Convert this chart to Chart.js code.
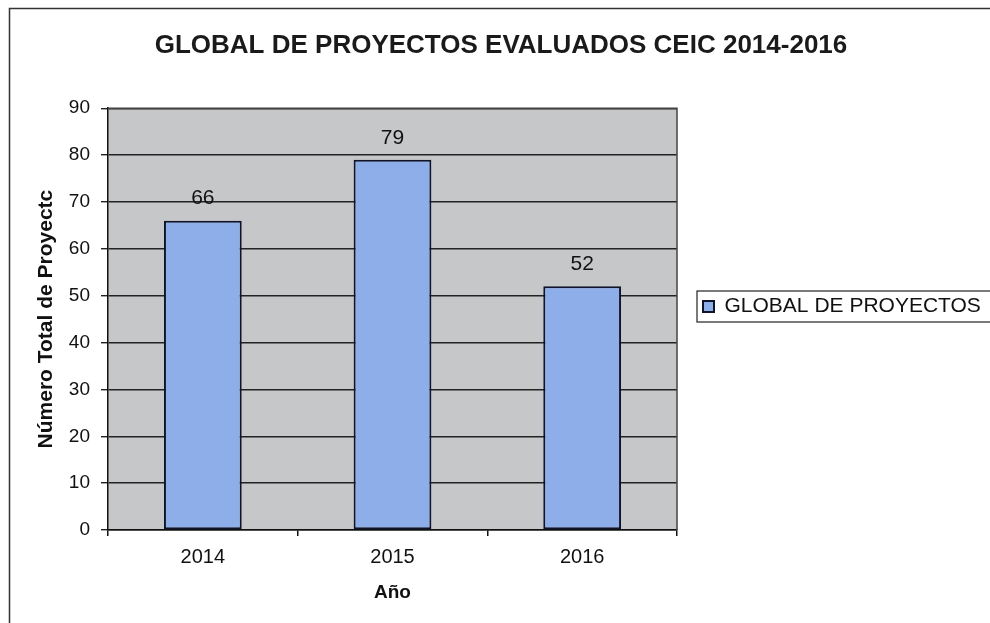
<!DOCTYPE html>
<html>
<head>
<meta charset="utf-8">
<script src="https://cdn.jsdelivr.net/npm/chart.js@4"></script>
<style>
  html, body { margin: 0; padding: 0; background: #fff; }
</style>
</head>
<body>
<canvas id="myChart" width="990" height="623"></canvas>
<script>
const years = ['2014', '2015', '2016'];
const proyectos = [66, 79, 52];
const serieName = 'GLOBAL DE PROYECTOS';
const chartTitle = 'GLOBAL DE PROYECTOS EVALUADOS CEIC 2014-2016';
const yTitle = 'Número Total de Proyectc';
const xTitle = 'Año';
const yMin = 0, yMax = 90, yStep = 10;

const FONT = '"Liberation Sans", Arial, sans-serif';

// grey plot area + outer frame
const plotBackground = {
    id: 'plotBackground',
    beforeDraw(chart) {
        const {ctx, chartArea: a} = chart;
        ctx.save();
        ctx.fillStyle = '#fff';
        ctx.fillRect(0, 0, chart.width, chart.height);
        ctx.fillStyle = '#c6c7c9';
        ctx.fillRect(a.left, a.top, a.right - a.left, a.bottom - a.top);
        ctx.strokeStyle = '#333';
        ctx.lineWidth = 1.5;
        ctx.beginPath();
        ctx.moveTo(9.5, chart.height);
        ctx.lineTo(9.5, 8.5);
        ctx.lineTo(chart.width, 8.5);
        ctx.stroke();
        ctx.restore();
    }
};

// the legend sits in a wide box on the right, wider than chart.js lets a side box be
const wideLegend = {
    id: 'wideLegend',
    beforeLayout(chart) {
        const lg = chart.legend;
        if (lg && !lg._wide) {
            const fit = lg.fit;
            lg.fit = function () {
                fit.call(this);
                this.width = 313;
            };
            lg._wide = true;
        }
    }
};

// value labels over the bars
const valueLabels = {
    id: 'valueLabels',
    afterDatasetsDraw(chart) {
        const {ctx} = chart;
        ctx.save();
        ctx.font = '21px ' + FONT;
        ctx.fillStyle = '#111';
        ctx.textAlign = 'center';
        ctx.textBaseline = 'middle';
        chart.getDatasetMeta(0).data.forEach((bar, i) => {
            ctx.fillText(String(proyectos[i]), bar.x, bar.y - 22);
        });
        ctx.restore();
    }
};

// plot border and legend frame
const frames = {
    id: 'frames',
    afterDraw(chart) {
        const {ctx, chartArea: a} = chart;
        ctx.save();
        ctx.strokeStyle = '#444';
        ctx.lineWidth = 1.5;
        ctx.beginPath();
        ctx.moveTo(a.left, a.top);
        ctx.lineTo(a.right, a.top);
        ctx.lineTo(a.right, a.bottom);
        ctx.stroke();
        const hb = chart.legend.legendHitBoxes[0];
        if (hb) {
            const cy = hb.top + hb.height / 2;
            ctx.strokeStyle = '#222';
            ctx.lineWidth = 1.2;
            ctx.strokeRect(hb.left - 6, cy - 15.5, 400, 31);
        }
        ctx.restore();
    }
};

const ctx = document.getElementById('myChart').getContext('2d');
const myChart = new Chart(ctx, {
    type: 'bar',
    data: {
        labels: years,
        datasets: [{
            label: serieName,
            data: proyectos,
            backgroundColor: '#8eaeea',
            borderColor: '#10142a',
            borderWidth: 2,
            borderSkipped: false,
            categoryPercentage: 1,
            barPercentage: 0.41
        }]
    },
    options: {
        responsive: false,
        animation: false,
        layout: {
            padding: { left: 12, right: 0, top: 0, bottom: 10 }
        },
        plugins: {
            title: {
                display: true,
                text: chartTitle,
                color: '#1a1a1a',
                font: { family: FONT, size: 26, weight: 'bold' },
                padding: { top: 30, bottom: 47 }
            },
            legend: {
                position: 'right',
                labels: {
                    color: '#111',
                    font: { family: FONT, size: 21 },
                    boxWidth: 11,
                    boxHeight: 11,
                    padding: 26
                }
            },
            tooltip: { enabled: false }
        },
        scales: {
            x: {
                grid: {
                    display: true,
                    drawOnChartArea: false,
                    drawTicks: true,
                    tickLength: 6,
                    color: '#111',
                    lineWidth: 1.5
                },
                border: { display: true, color: '#111', width: 1.5 },
                ticks: {
                    color: '#111',
                    font: { family: FONT, size: 20 },
                    padding: 9
                },
                title: {
                    display: true,
                    text: xTitle,
                    color: '#111',
                    font: { family: FONT, size: 19, weight: 'bold' },
                    padding: { top: 0, bottom: 9 }
                },
                afterFit(scale) { scale.height = 83; }
            },
            y: {
                min: yMin,
                max: yMax,
                grid: {
                    color: '#222',
                    lineWidth: 1.4,
                    drawTicks: true,
                    tickLength: 7
                },
                border: { display: true, color: '#111', width: 1.5 },
                ticks: {
                    stepSize: yStep,
                    color: '#111',
                    font: { family: FONT, size: 19 },
                    padding: 11
                },
                title: {
                    display: true,
                    text: yTitle,
                    color: '#111',
                    font: { family: FONT, size: 21, weight: 'bold' },
                    padding: { top: 22, bottom: 0 }
                },
                afterFit(scale) { scale.width = 96; }
            }
        }
    },
    plugins: [plotBackground, wideLegend, valueLabels, frames]
});
</script>
</body>
</html>
